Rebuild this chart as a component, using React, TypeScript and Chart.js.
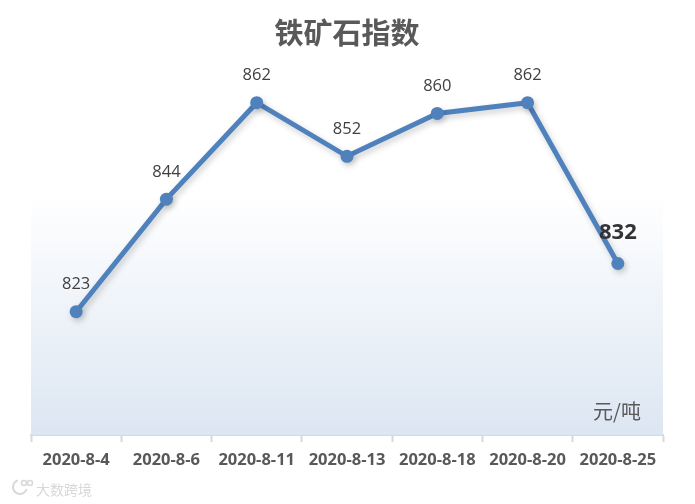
import React, { useEffect, useRef } from "react";
import { Chart, registerables } from "chart.js";

Chart.register(...registerables);

const categories = ["2020-8-4", "2020-8-6", "2020-8-11", "2020-8-13", "2020-8-18", "2020-8-20", "2020-8-25"];
const values = [823, 844, 862, 852, 860, 862, 832];
const titleText = "铁矿石指数";
const unitText = "元/吨";
const watermarkText = "大数跨境";
const FONT = "'Noto Sans CJK SC', 'Noto Sans', sans-serif";
const LABEL_FONT = "'Open Sans', 'Noto Sans', sans-serif";

const decor = {
  id: "decor",
  beforeDatasetsDraw(chart: any) {
    const { ctx, chartArea: a, scales } = chart;
    const top = scales.y.getPixelForValue(844.5);
    const g = ctx.createLinearGradient(0, top, 0, a.bottom);
    g.addColorStop(0, "#ffffff");
    g.addColorStop(1, "#dce6f2");
    ctx.save();
    ctx.fillStyle = g;
    ctx.fillRect(a.left, top, a.right - a.left, a.bottom - top);
    ctx.restore();
  },
  beforeDatasetDraw(chart: any) {
    const { ctx } = chart;
    ctx.save();
    ctx.shadowColor = "rgba(0,0,0,0.2)";
    ctx.shadowBlur = 6;
    ctx.shadowOffsetX = 2;
    ctx.shadowOffsetY = 3;
  },
  afterDatasetDraw(chart: any) {
    chart.ctx.restore();
  },
  afterDraw(chart: any) {
    const { ctx, chartArea: a } = chart;
    const pts = chart.getDatasetMeta(0).data;
    ctx.save();
    ctx.textAlign = "center";
    ctx.textBaseline = "middle";
    pts.forEach((p: any, i: number) => {
      const last = i === values.length - 1;
      ctx.font = last ? `bold 22px ${LABEL_FONT}` : `16.5px ${LABEL_FONT}`;
      ctx.fillStyle = last ? "#333333" : "#404040";
      ctx.fillText(String(values[i]), p.x, p.y - (last ? 31 : 27));
    });
    ctx.font = `20px ${FONT}`;
    ctx.fillStyle = "#595959";
    ctx.fillText(unitText, a.right - 46, a.bottom - 24);
    ctx.font = `14px ${FONT}`;
    ctx.fillStyle = "#d8d8d8";
    ctx.textAlign = "left";
    ctx.fillText(watermarkText, 36, 490);
    ctx.strokeStyle = "#d8d8d8";
    ctx.lineWidth = 2;
    ctx.beginPath();
    ctx.arc(20, 487, 7, 0.3, Math.PI * 1.4);
    ctx.stroke();
    ctx.lineWidth = 1.5;
    ctx.beginPath();
    ctx.arc(24, 483, 2.5, 0, Math.PI * 2);
    ctx.stroke();
    ctx.beginPath();
    ctx.arc(30, 483, 2.5, 0, Math.PI * 2);
    ctx.stroke();
    ctx.restore();
  },
};

export default function App() {
  const ref = useRef<HTMLCanvasElement>(null);
  useEffect(() => {
    document.body.style.margin = "0";
    const chart = new Chart(ref.current!, {
      type: "line",
      data: {
        labels: categories,
        datasets: [
          {
            data: values,
            borderColor: "#4f81bd",
            backgroundColor: "#4f81bd",
            borderWidth: 5,
            pointRadius: 6.5,
            pointBorderWidth: 0,
            tension: 0,
            clip: false,
          },
        ],
      },
      options: {
        responsive: false,
        animation: false,
        layout: { padding: { left: 31, right: 32, top: 0, bottom: 0 } },
        plugins: {
          legend: { display: false },
          tooltip: { enabled: false },
          title: {
            display: true,
            text: titleText,
            color: "#595959",
            font: { size: 29, weight: "bold", family: FONT },
            padding: { top: 16, bottom: 9 },
          },
        },
        scales: {
          x: {
            offset: true,
            afterFit(s: any) {
              s.height = 69;
            },
            grid: { offset: true, drawOnChartArea: false, color: "#d9d9d9", tickLength: 7, tickWidth: 2 },
            border: { color: "#d9d9d9", width: 2 },
            ticks: {
              color: "#595959",
              padding: 8,
              maxRotation: 0,
              autoSkip: false,
              font: { size: 16.5, weight: "bold", family: LABEL_FONT },
            },
          },
          y: { display: false, min: 800, max: 870 },
        },
      },
      plugins: [decor],
    } as any);
    return () => chart.destroy();
  }, []);
  return <canvas ref={ref} width={695} height={504} style={{ display: "block" }} />;
}
